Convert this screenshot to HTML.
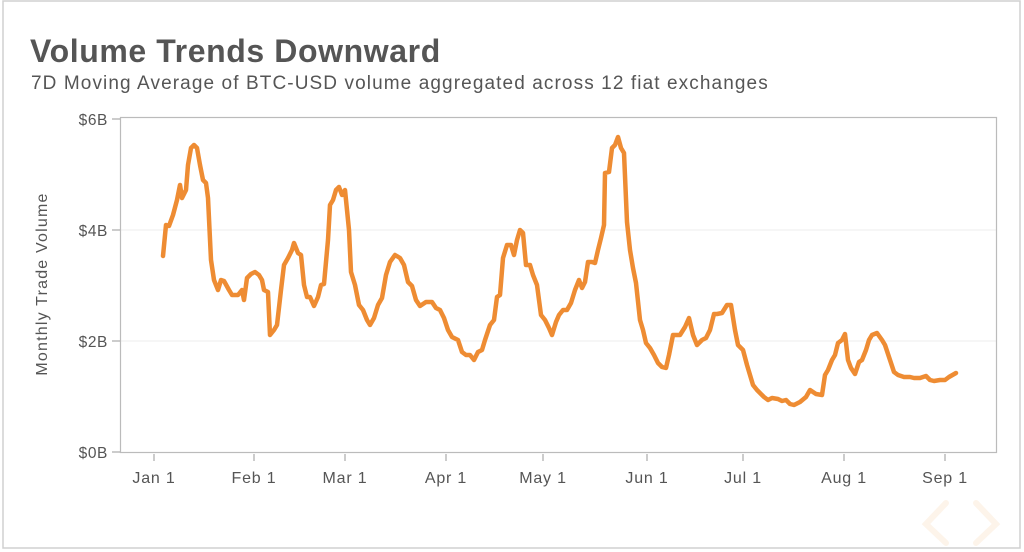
<!DOCTYPE html>
<html><head><meta charset="utf-8"><style>
body{margin:0;background:#fff;width:1024px;height:552px;overflow:hidden;font-family:"Liberation Sans",sans-serif}
</style></head><body>
<svg width="1024" height="552" xmlns="http://www.w3.org/2000/svg" style="position:absolute;left:0;top:0">
<rect x="3" y="1" width="1017" height="547" fill="#fff" stroke="#d0d0d0" stroke-width="1.5"/>
<text x="30" y="62" font-size="32" font-weight="bold" fill="#555" font-family="Liberation Sans,sans-serif" letter-spacing="0.6">Volume Trends Downward</text>
<text x="31" y="89" font-size="19" fill="#555" font-family="Liberation Sans,sans-serif" letter-spacing="1.1">7D Moving Average of BTC-USD volume aggregated across 12 fiat exchanges</text>
<g stroke="#eee" stroke-width="1"><line x1="121" y1="230" x2="997" y2="230"/><line x1="121" y1="341" x2="997" y2="341"/></g>
<rect x="120.5" y="117.5" width="876" height="335" fill="none" stroke="#bbb" stroke-width="1.2"/>
<g stroke="#999" stroke-width="1"><line x1="112" y1="119" x2="120" y2="119"/><line x1="112" y1="230" x2="120" y2="230"/><line x1="112" y1="341" x2="120" y2="341"/><line x1="112" y1="452" x2="120" y2="452"/>
<line x1="154" y1="454" x2="154" y2="461"/><line x1="254" y1="454" x2="254" y2="461"/><line x1="345" y1="454" x2="345" y2="461"/><line x1="446" y1="454" x2="446" y2="461"/><line x1="543" y1="454" x2="543" y2="461"/><line x1="647" y1="454" x2="647" y2="461"/><line x1="743" y1="454" x2="743" y2="461"/><line x1="844" y1="454" x2="844" y2="461"/><line x1="945" y1="454" x2="945" y2="461"/></g>
<g font-size="15.5" fill="#555" text-anchor="end" font-family="Liberation Sans,sans-serif" letter-spacing="0.6"><text x="108" y="125">$6B</text><text x="108" y="236">$4B</text><text x="108" y="347">$2B</text><text x="108" y="458">$0B</text></g>
<g font-size="16" fill="#555" text-anchor="middle" font-family="Liberation Sans,sans-serif" letter-spacing="0.8"><text x="154" y="483">Jan 1</text><text x="254" y="483">Feb 1</text><text x="345" y="483">Mar 1</text><text x="446" y="483">Apr 1</text><text x="543" y="483">May 1</text><text x="647" y="483">Jun 1</text><text x="743" y="483">Jul 1</text><text x="844" y="483">Aug 1</text><text x="945" y="483">Sep 1</text></g>
<text transform="translate(47,284) rotate(-90)" font-size="16" fill="#555" text-anchor="middle" font-family="Liberation Sans,sans-serif" letter-spacing="1.2">Monthly Trade Volume</text>
<polyline fill="none" stroke="#ee8c33" stroke-width="4.5" stroke-linejoin="round" stroke-linecap="round" points="163,256 166,225 169,226 173,215 177,200 180,185 182,198 186,190 188,165 191,148 194,145 197,148 200,165 203,180 206,183 208,198 211,260 214,280 218,290 221,280 224,281 229,290 232,295 238,295 242,290 244,300 247,278 251,274 255,272 259,275 262,280 264,290 268,292 270,335 274,330 277,325 281,290 284,265 288,258 292,250 294,243 298,253 301,255 304,285 307,297 310,297 314,306 318,297 321,285 324,284 328,240 330,205 333,200 336,190 339,187 342,195 345,190 349,230 351,272 355,285 359,305 363,310 367,320 370,325 374,318 378,305 382,298 386,275 390,262 395,255 400,258 404,265 408,282 412,286 416,300 420,306 426,302 432,302 436,308 440,310 444,318 448,330 452,337 458,340 462,352 466,355 470,355 474,360 478,352 482,350 485,340 490,325 494,320 497,297 500,295 503,258 507,245 511,245 514,255 517,240 520,230 523,233 526,265 530,265 533,275 537,285 541,315 545,320 549,328 552,335 556,322 559,315 563,310 567,310 571,303 575,290 579,280 582,288 585,282 588,262 592,262 595,263 598,250 601,238 604,225 605,173 609,172 612,148 615,145 618,137 621,148 624,153 627,222 630,250 633,268 636,283 640,320 643,330 646,343 650,348 654,355 658,363 662,367 666,368 669,355 673,335 676,335 680,335 685,327 689,318 693,335 697,345 702,340 706,338 710,330 714,314 717,314 722,313 727,305 731,305 735,330 738,345 743,350 747,365 753,385 757,390 764,397 768,400 772,398 778,399 782,401 786,400 790,404 794,405 800,402 806,397 810,390 816,394 822,395 825,375 828,370 832,360 835,355 838,343 842,340 845,334 848,360 851,368 855,374 859,362 862,360 866,350 869,340 872,335 877,333 882,340 885,345 890,360 894,372 898,375 904,377 910,377 914,378 920,378 926,376 930,380 934,381 940,380 945,380 949,377 956,373"/>
<g stroke="#fdf4ea" stroke-width="6" fill="none" stroke-linecap="round"><path d="M946,503 L926,524 L946,543"/><path d="M976,503 L996,524 L976,543"/></g>
</svg>
</body></html>
